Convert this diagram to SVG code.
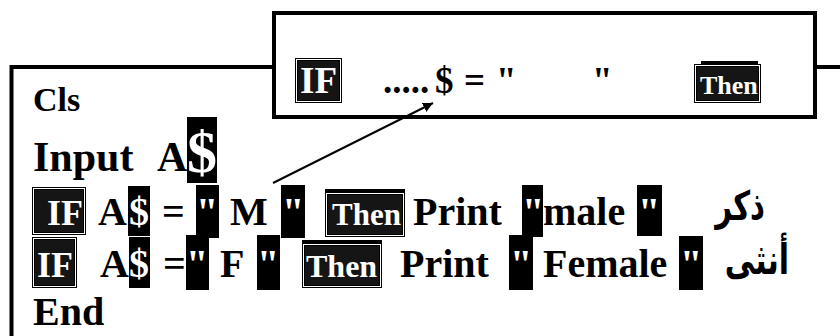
<svg xmlns="http://www.w3.org/2000/svg" width="840" height="336" viewBox="0 0 840 336">
<style>
.t{font-family:"Liberation Serif","Times New Roman",serif;font-weight:bold;fill:#000}
.w{font-family:"Liberation Serif","Times New Roman",serif;font-weight:bold;fill:#fff}
.ar{font-family:"DejaVu Sans",sans-serif;font-weight:bold;fill:#000}
.blk{fill:#000}
.frame{fill:none;stroke:#000;stroke-width:4}
.kw-out{fill:#000}
.kw-line{fill:none;stroke:#fff;stroke-width:1}
.kw-in{fill:#151515}
</style>
<defs>
<marker id="ah" viewBox="0 0 10 10" refX="10" refY="5" markerWidth="5" markerHeight="5" orient="auto" markerUnits="strokeWidth">
<path d="M0,0 L10,5 L0,10 z" fill="#000"/>
</marker>
</defs>
<rect width="840" height="336" fill="#fff"/>
<g id="main-box">
<rect class="frame" x="11.5" y="67" width="900" height="400"/>
<text class="t" x="33" y="111" font-size="34">Cls</text>
<text class="t" x="33" y="171" font-size="42">Input</text>
<text class="t" x="157" y="171" font-size="42">A</text>
<rect class="blk" x="187" y="117" width="30" height="66"/>
<text class="w" x="187" y="172" font-size="60">$</text>
</g>
<g id="line-male">
<rect class="kw-out" x="32" y="187" width="54" height="48"/>
<rect class="kw-line" x="33.5" y="188.5" width="51" height="45"/>
<rect class="kw-in" x="35" y="190" width="48" height="42"/>
<text class="w" x="47" y="225" font-size="36">IF</text>
<text class="t" x="98" y="225" font-size="40">A</text>
<rect class="blk" x="128" y="186" width="22" height="50"/>
<text class="w" x="129" y="225" font-size="40">$</text>
<text class="t" x="162" y="225" font-size="40">=</text>
<rect class="blk" x="196" y="185" width="23" height="53"/>
<text class="w" x="196" y="225" font-size="40">"</text>
<text class="t" x="230" y="225" font-size="40">M</text>
<rect class="blk" x="281" y="185" width="24" height="53"/>
<text class="w" x="282" y="225" font-size="40">"</text>
<rect class="kw-out" x="325" y="189" width="80" height="48"/>
<rect class="kw-line" x="326.5" y="193.5" width="77" height="42"/>
<rect class="kw-in" x="328" y="195" width="74" height="39"/>
<text class="w" x="332" y="225" font-size="31">Then</text>
<text class="t" x="413" y="225" font-size="40">Print</text>
<rect class="blk" x="522" y="185" width="21" height="52"/>
<text class="w" x="522" y="225" font-size="40">"</text>
<text class="t" x="543" y="225" font-size="40">male</text>
<rect class="blk" x="637" y="185" width="25" height="51"/>
<text class="w" x="638" y="225" font-size="40">"</text>
<text class="ar" transform="translate(765,220) scale(1,1.4)" x="0" y="0" font-size="29" text-anchor="end">ذكر</text>
</g>
<g id="line-female">
<rect class="kw-out" x="32" y="237" width="45" height="51"/>
<rect class="kw-line" x="33.5" y="238.5" width="42" height="48"/>
<rect class="kw-in" x="35" y="240" width="39" height="45"/>
<text class="w" x="37" y="277" font-size="36">IF</text>
<text class="t" x="100" y="277" font-size="40">A</text>
<rect class="blk" x="129" y="237" width="21" height="51"/>
<text class="w" x="129" y="277" font-size="40">$</text>
<text class="t" x="163" y="277" font-size="40">=</text>
<rect class="blk" x="186" y="235" width="23" height="55"/>
<text class="w" x="186" y="277" font-size="40">"</text>
<text class="t" x="220" y="277" font-size="40">F</text>
<rect class="blk" x="257" y="235" width="23" height="55"/>
<text class="w" x="257" y="277" font-size="40">"</text>
<rect class="kw-out" x="302" y="240" width="80" height="48"/>
<rect class="kw-line" x="303.5" y="244.5" width="77" height="42"/>
<rect class="kw-in" x="305" y="246" width="74" height="39"/>
<text class="w" x="306" y="277" font-size="32">Then</text>
<text class="t" x="400" y="277" font-size="40">Print</text>
<rect class="blk" x="509" y="235" width="24" height="55"/>
<text class="w" x="510" y="277" font-size="40">"</text>
<text class="t" x="543" y="277" font-size="40">Female</text>
<rect class="blk" x="679" y="236" width="24" height="54"/>
<text class="w" x="680" y="277" font-size="40">"</text>
<text class="ar" transform="translate(789,274) scale(1,1.4)" x="0" y="0" font-size="30" text-anchor="end">أنثى</text>
</g>
<g id="end-line">
<text class="t" x="33" y="325" font-size="40">End</text>
</g>
<g id="template-box">
<rect x="274" y="13" width="541" height="104" fill="#fff" stroke="#000" stroke-width="4"/>
<rect class="kw-out" x="295" y="58" width="47" height="45"/>
<rect class="kw-line" x="296.5" y="59.5" width="44" height="42"/>
<rect class="kw-in" x="298" y="61" width="41" height="39"/>
<text class="w" x="300" y="93" font-size="37">IF</text>
<text class="t" x="383" y="93" font-size="37">.....</text>
<text class="t" x="435" y="93" font-size="37">$</text>
<text class="t" x="464" y="93" font-size="37">=</text>
<text class="t" x="496" y="93" font-size="37">"</text>
<text class="t" x="592" y="93" font-size="37">"</text>
<rect class="blk" x="701" y="61" width="57" height="4"/>
<rect class="kw-out" x="694" y="64" width="67" height="39"/>
<rect class="kw-line" x="695.5" y="65.5" width="64" height="36"/>
<rect class="kw-in" x="697" y="67" width="61" height="33"/>
<text class="w" x="700" y="94" font-size="26">Then</text>
</g>
<g id="connectors">
<line x1="273" y1="183" x2="433" y2="103" stroke="#000" stroke-width="2" marker-end="url(#ah)"/>
</g>
</svg>
